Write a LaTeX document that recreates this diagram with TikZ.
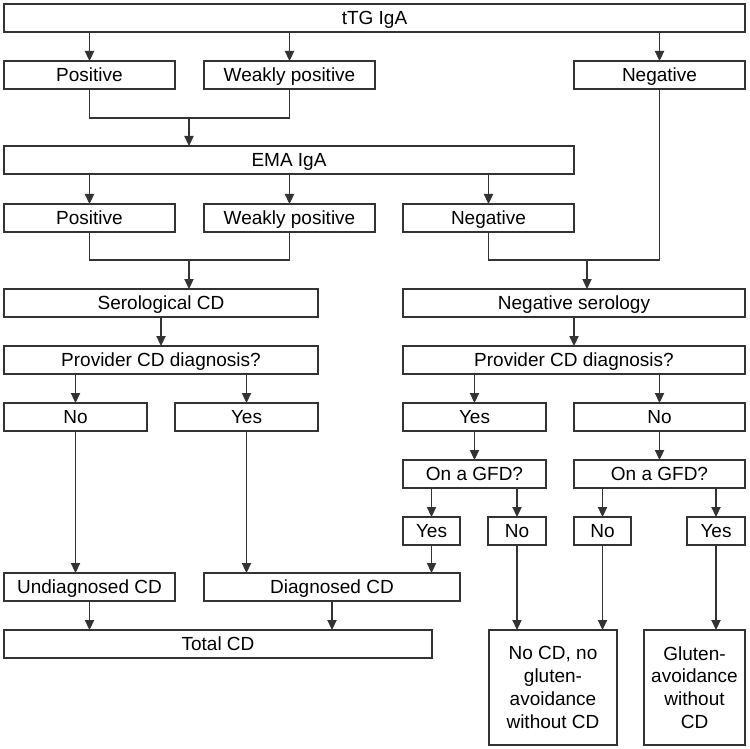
\documentclass[tikz,border=0pt]{standalone}
\usepackage{fontspec}
\setmainfont{Liberation Sans}
\usetikzlibrary{arrows.meta}

\begin{document}
\begin{tikzpicture}[x=0.5pt, y=-0.5pt, >={Triangle[length=5pt, width=4.6pt]},
    box/.style={draw=black!80, line width=0.7pt, anchor=north west, inner sep=0pt, outer sep=0pt,
        minimum height=14pt, text height=6.8pt, text depth=0pt,
        font=\fontsize{9.5}{11.35}\selectfont},
    tallbox/.style={box, minimum height=57.5pt, text height=, text depth=, align=center},
    link/.style={->, draw=black!80, line width=0.7pt}]

    \useasboundingbox (0,0) rectangle (750,749);

    % --- 1. tTG IgA and its results ---
    \node[box, minimum width=370.5pt] (ttg) at (4,4) {tTG IgA};
    \node[box, minimum width=85.5pt] (pos1) at (4,61) {Positive};
    \node[box, minimum width=85.5pt] (weak1) at (204,61) {Weakly positive};
    \node[box, minimum width=85.5pt] (neg1) at (574,61) {Negative};

    \draw[link] (ttg.south -| pos1.north) -- (pos1.north);
    \draw[link] (ttg.south -| weak1.north) -- (weak1.north);
    \draw[link] (ttg.south -| neg1.north) -- (neg1.north);

    % --- 2. EMA IgA and its results ---
    \node[box, minimum width=285pt] (ema) at (4,146) {EMA IgA};
    \node[box, minimum width=85.5pt] (pos2) at (4,204) {Positive};
    \node[box, minimum width=85.5pt] (weak2) at (204,204) {Weakly positive};
    \node[box, minimum width=85.5pt] (neg2) at (403,204) {Negative};

    % join of the two positive tTG boxes
    \coordinate (join1) at (189,118);
    \draw[draw=black!80, line width=0.7pt] (pos1.south) |- (join1) -| (weak1.south);
    \draw[link] (join1) -- (join1 |- ema.north);

    \draw[link] (ema.south -| pos2.north) -- (pos2.north);
    \draw[link] (ema.south -| weak2.north) -- (weak2.north);
    \draw[link] (ema.south -| neg2.north) -- (neg2.north);

    % --- 3. Serology ---
    \node[box, minimum width=157pt] (sero) at (4,289) {Serological CD};
    \node[box, minimum width=171pt] (negsero) at (403,289) {Negative serology};

    \coordinate (join2) at (189,260);
    \draw[draw=black!80, line width=0.7pt] (pos2.south) |- (join2) -| (weak2.south);
    \draw[link] (join2) -- (join2 |- sero.north);

    \coordinate (join3) at (587,260);
    \draw[draw=black!80, line width=0.7pt] (neg2.south) |- (join3) -| (neg1.south);
    \draw[link] (join3) -- (join3 |- negsero.north);

    % --- 4. Provider diagnosis ---
    \node[box, minimum width=157pt] (prov1) at (4,346) {Provider CD diagnosis?};
    \node[box, minimum width=171pt] (prov2) at (403,346) {Provider CD diagnosis?};
    \draw[link] (sero.south) -- (sero.south |- prov1.north);
    \draw[link] (negsero.south) -- (negsero.south |- prov2.north);

    \node[box, minimum width=71.5pt] (no1) at (4,403) {No};
    \node[box, minimum width=71.5pt] (yes1) at (175,403) {Yes};
    \node[box, minimum width=71.5pt] (yes2) at (403,403) {Yes};
    \node[box, minimum width=85.5pt] (no2) at (574,403) {No};

    \draw[link] (prov1.south -| no1.north) -- (no1.north);
    \draw[link] (prov1.south -| yes1.north) -- (yes1.north);
    \draw[link] (prov2.south -| yes2.north) -- (yes2.north);
    \draw[link] (prov2.south -| no2.north) -- (no2.north);

    % --- 5. Gluten-free diet ---
    \node[box, minimum width=71.5pt] (gfd1) at (403,460) {On a GFD?};
    \node[box, minimum width=85.5pt] (gfd2) at (574,460) {On a GFD?};
    \draw[link] (yes2.south) -- (yes2.south |- gfd1.north);
    \draw[link] (no2.south) -- (no2.south |- gfd2.north);

    \node[box, minimum width=28.5pt] (yes3) at (403,517) {Yes};
    \node[box, minimum width=29pt] (no3) at (488,517) {No};
    \node[box, minimum width=28.5pt] (no4) at (574,517) {No};
    \node[box, minimum width=29pt] (yes4) at (687,517) {Yes};

    \draw[link] (gfd1.south -| yes3.north) -- (yes3.north);
    \draw[link] (gfd1.south -| no3.north) -- (no3.north);
    \draw[link] (gfd2.south -| no4.north) -- (no4.north);
    \draw[link] (gfd2.south -| yes4.north) -- (yes4.north);

    % --- 6. Outcomes ---
    \node[box, minimum width=85.5pt] (undiag) at (4,573) {Undiagnosed CD};
    \node[box, minimum width=128pt] (diag) at (204,573) {Diagnosed CD};
    \node[box, minimum width=214pt] (total) at (4,630) {Total CD};
    \node[tallbox, minimum width=64pt] (nocd) at (489,630) {No CD, no\\gluten-\\avoidance\\without CD};
    \node[tallbox, minimum width=50.5pt] (gluten) at (644,630) {Gluten-\\avoidance\\without\\CD};

    \draw[link] (no1.south) -- (no1.south |- undiag.north);
    \draw[link] (yes1.south) -- (yes1.south |- diag.north);
    \draw[link] (yes3.south) -- (yes3.south |- diag.north);
    \draw[link] (undiag.south) -- (undiag.south |- total.north);
    \draw[link] (diag.south) -- (diag.south |- total.north);
    \draw[link] (no3.south) -- (no3.south |- nocd.north);
    \draw[link] (no4.south) -- (no4.south |- nocd.north);
    \draw[link] (yes4.south) -- (yes4.south |- gluten.north);

\end{tikzpicture}
\end{document}
